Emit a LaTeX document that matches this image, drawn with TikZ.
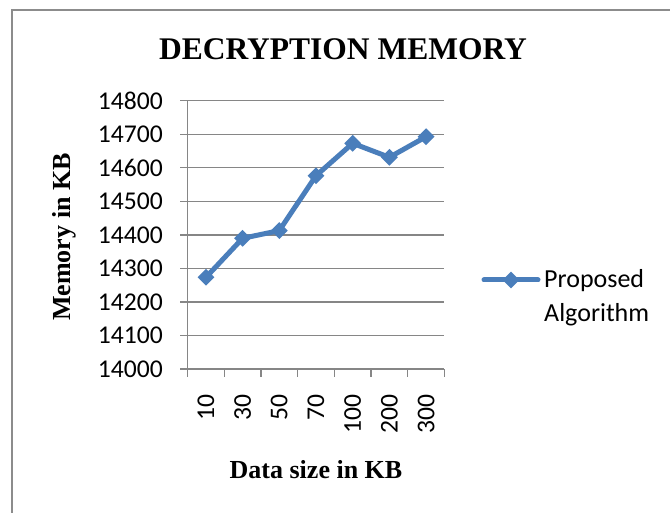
\documentclass[tikz,border=0pt]{standalone}
\usepackage{fontspec}
\setmainfont{Liberation Serif}
\newfontfamily\calfont{Carlito}
\usetikzlibrary{shapes.geometric}
\definecolor{series}{RGB}{74,126,187}
\definecolor{gridc}{RGB}{134,134,134}
\definecolor{framec}{RGB}{140,140,140}
\begin{document}
\begin{tikzpicture}[x=1pt,y=-1pt,
  gridline/.style={draw=gridc,line width=1.4pt},
  ticklab/.style={font=\calfont\fontsize{25.6pt}{30pt}\selectfont,inner sep=0pt},
  axtitle/.style={font=\bfseries\fontsize{26pt}{30pt}\selectfont,inner sep=0pt},
  serline/.style={draw=series,line width=5pt,line join=round},
  marker/.style={diamond,fill=series,draw=none,inner sep=0pt,minimum width=17pt,minimum height=17pt}]
\useasboundingbox (0,0) rectangle (670,513);
\fill[white] (0,0) rectangle (670,513);
% outer frame (left and top edges visible)
\draw[framec,line width=2pt] (11.5,513) -- (11.5,10.5) -- (670,10.5);
% title
\node[font=\bfseries\fontsize{31.5pt}{36pt}\selectfont,inner sep=0pt,anchor=base] (title) at (343,60) {DECRYPTION MEMORY};
% gridlines and y labels
\foreach \v [count=\i from 0] in {14000,14100,14200,14300,14400,14500,14600,14700,14800}{
  \pgfmathsetmacro{\yy}{369-\i*33.54}
  \draw[gridline] (180,\yy) -- (444,\yy);
  \node[ticklab,anchor=east] (yl\i) at (163,\yy) {\v};
}
% y axis
\draw[gridline] (187.5,100.7) -- (187.5,369);
% x ticks
\foreach \i in {0,...,7}{
  \pgfmathsetmacro{\xx}{187.5+\i*36.7}
  \draw[gridline] (\xx,369) -- (\xx,377);
}
% x labels
\foreach \v [count=\i from 0] in {10,30,50,70,100,200,300}{
  \pgfmathsetmacro{\xx}{205.85+\i*36.7}
  \node[ticklab,rotate=90,anchor=east] (xl\i) at (\xx,394) {\v};
}
% axis titles
\node[axtitle,anchor=base] (xtitle) at (316,478) {Data size in KB};
\node[axtitle,rotate=90,anchor=base] (ytitle) at (70,237) {Memory in KB};
% data
\coordinate (c1) at (206,277.3);
\coordinate (c2) at (242.6,238.3);
\coordinate (c3) at (279.3,230.6);
\coordinate (c4) at (316,175.7);
\coordinate (c5) at (352.7,143.3);
\coordinate (c6) at (389.4,157.3);
\coordinate (c7) at (426.1,136.7);
\draw[serline] (c1) -- (c2) -- (c3) -- (c4) -- (c5) -- (c6) -- (c7);
\foreach \i in {1,...,7}{
  \node[marker] (m\i) at (c\i) {};
}
% legend
\coordinate (la) at (484,280);
\coordinate (lb) at (538,280);
\draw[serline,line cap=round] (la) -- (lb);
\node[marker] (lm) at (511,280) {};
\node[ticklab,font=\calfont\fontsize{26pt}{30pt}\selectfont,anchor=base west] (leg1) at (544,288) {Proposed};
\node[ticklab,font=\calfont\fontsize{26pt}{30pt}\selectfont,anchor=base west] (leg2) at (544,322) {Algorithm};
\end{tikzpicture}
\end{document}
